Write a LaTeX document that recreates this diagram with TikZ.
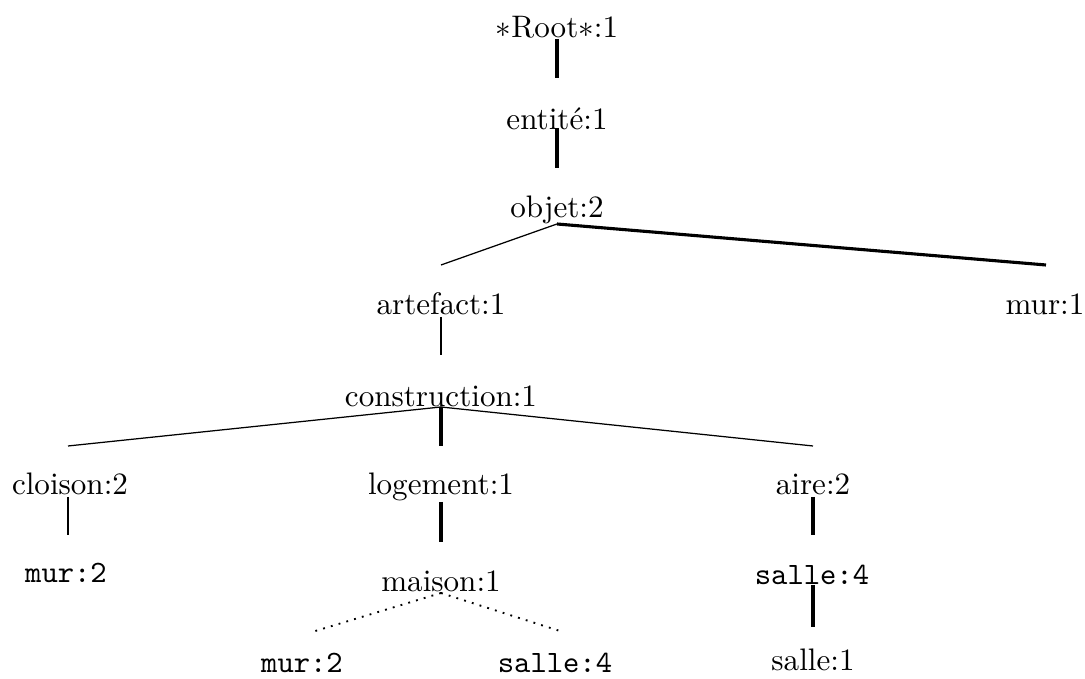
\documentclass[tikz,border=0pt]{standalone}
\usepackage{fontspec}
\usepackage{tikz}

\begin{document}
\begin{tikzpicture}[
    x=0.3215pt, y=-0.3215pt,
    sense/.style={inner sep=0pt, anchor=base},
    word/.style={sense, font=\ttfamily},
    hyper/.style={line width=1pt},
    weak/.style={line width=0.4pt},
    dots/.style={line width=0.6pt, dotted}
]
    \useasboundingbox (0,0) rectangle (1085,679);

    % Senses of the hierarchy
    \node (root) [sense] at (557,38) {\(\ast\)Root\(\ast\):1};
    \node (entite) [sense] at (557,130) {entité:1};
    \node (objet) [sense] at (557,218) {objet:2};
    \node (artefact) [sense] at (441,315) {artefact:1};
    \node (mur1) [sense] at (1045,315) {mur:1};
    \node (construction) [sense] at (441,407) {construction:1};
    \node (cloison) [sense] at (70,495) {cloison:2};
    \node (logement) [sense] at (441,495) {logement:1};
    \node (aire) [sense] at (813,495) {aire:2};
    \node (maison) [sense] at (441,592) {maison:1};
    \node (salle1) [sense] at (813,671) {salle:1};

    % Words attached to senses
    \node (murA) [word] at (66,583) {mur:2};
    \node (salleA) [word] at (812,585) {salle:4};
    \node (murB) [word] at (302,673) {mur:2};
    \node (salleB) [word] at (555,673) {salle:4};

    % Links
    \draw[hyper] ([shift={(0,1)}]root.base) -- ([shift={(0,-52)}]entite.base);
    \draw[hyper] ([shift={(0,-2)}]entite.base) -- ([shift={(0,-50)}]objet.base);
    \draw[weak] ([shift={(0,6)}]objet.base) -- ([shift={(0,-50)}]artefact.base);
    \draw[hyper] ([shift={(0,6)}]objet.base) -- ([shift={(1,-50)}]mur1.base);
    \draw[weak] ([shift={(0,2)}]artefact.base) -- ([shift={(0,-52)}]construction.base);
    \draw[weak] (construction.base) -- ([shift={(-2,-49)}]cloison.base);
    \draw[hyper] (construction.base) -- ([shift={(0,-49)}]logement.base);
    \draw[weak] (construction.base) -- ([shift={(0,-49)}]aire.base);
    \draw[weak] ([shift={(-2,2)}]cloison.base) -- ([shift={(2,-48)}]murA.base);
    \draw[hyper] ([shift={(0,7)}]logement.base) -- ([shift={(0,-50)}]maison.base);
    \draw[hyper] ([shift={(0,2)}]aire.base) -- ([shift={(1,-50)}]salleA.base);
    \draw[dots] ([shift={(0,1)}]maison.base) -- ([shift={(10,-41)}]murB.base);
    \draw[dots] ([shift={(0,1)}]maison.base) -- ([shift={(8,-41)}]salleB.base);
    \draw[hyper] ([shift={(1,0)}]salleA.base) -- ([shift={(0,-44)}]salle1.base);
\end{tikzpicture}
\end{document}
